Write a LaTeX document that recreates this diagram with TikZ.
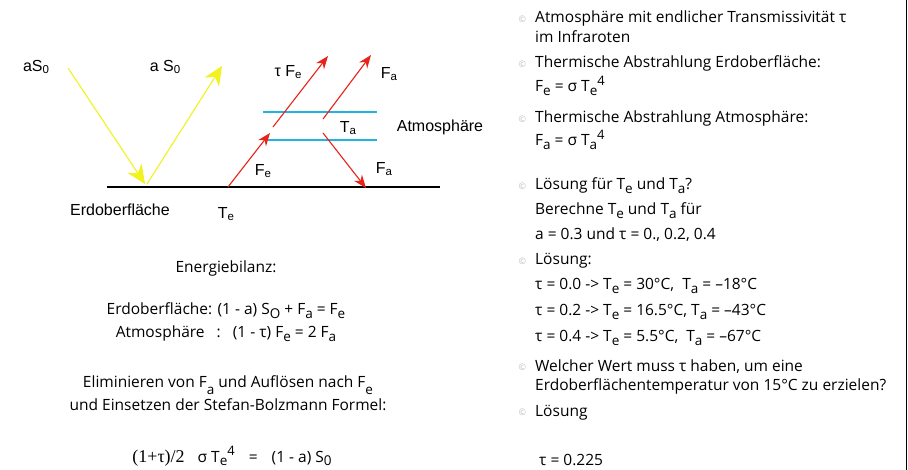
\documentclass[tikz,border=0pt]{standalone}
\usepackage{fontspec}
\usetikzlibrary{arrows.meta}
\setmainfont{Open Sans}
\newfontfamily\arialf{Liberation Sans}
\newfontfamily\serff{Liberation Serif}
\definecolor{redarrow}{HTML}{E8231A}
\definecolor{yelarrow}{HTML}{F2F21E}
\definecolor{cyanline}{HTML}{22B4E0}
\newcommand\lo[1]{\raisebox{-0.4ex}{\fontsize{13.5}{15}\selectfont #1}}
\newcommand\llo[1]{\raisebox{-0.8ex}{\fontsize{13.5}{15}\selectfont #1}}
\newcommand\up[1]{\raisebox{0.8ex}{\fontsize{13}{15}\selectfont #1}}
\newcommand\bul{\makebox[0pt][r]{\fontsize{9}{10}\selectfont\color{black!25}\raisebox{0.2ex}{©}\hspace{9pt}}}
\newcommand\dsub[1]{\raisebox{-0.25ex}{\fontsize{11.5}{13}\selectfont #1}}
\begin{document}
\begin{tikzpicture}[x=1pt,y=-1pt,
  rt/.style={anchor=base west,inner sep=0pt,font=\fontsize{15.5}{17}\selectfont},
  lt/.style={anchor=base,inner sep=0pt,font=\fontsize{15.5}{17}\selectfont},
  dl/.style={inner sep=0pt,font=\arialf\fontsize{16}{18}\selectfont},
  redarr/.style={draw=redarrow,line width=1.1pt,-{Stealth[length=13pt,width=10pt]}},
  yelarr/.style={draw=yelarrow,line width=1.1pt,-{Stealth[length=19pt,width=17pt]}},
  atmline/.style={draw=cyanline,line width=1.2pt}]
\useasboundingbox (0,0) rectangle (908,470);
\fill[white] (0,0) rectangle (908,470);
% right border line
\coordinate (bt) at (906,0); \coordinate (bb) at (906,470);
\draw[line width=1pt] (bt) -- (bb);
% ground and atmosphere
\coordinate (g1) at (107,187); \coordinate (g2) at (440,187);
\draw[line width=1.1pt] (g1) -- (g2);
\coordinate (a1) at (263,112); \coordinate (a2) at (377,112);
\coordinate (b1) at (268,140); \coordinate (b2) at (377,140);
\draw[atmline] (a1) -- (a2);
\draw[atmline] (b1) -- (b2);
% yellow
\coordinate (y0) at (68,68); \coordinate (y1) at (145,184);
\coordinate (y2) at (147,184); \coordinate (y3) at (222,66);
\draw[yelarr] (y0) -- (y1);
\draw[yelarr] (y2) -- (y3);
% red
\coordinate (r0) at (228,187); \coordinate (r1) at (270,133);
\coordinate (r2) at (273,127); \coordinate (r3) at (328,56);
\coordinate (r4) at (323,119); \coordinate (r5) at (371,55);
\coordinate (r6) at (323,133); \coordinate (r7) at (366,188);
\draw[redarr] (r0) -- (r1);
\draw[redarr] (r2) -- (r3);
\draw[redarr] (r4) -- (r5);
\draw[redarr] (r6) -- (r7);
% diagram labels
\node[dl] (laS) at (36,67) {aS\dsub{0}};
\node[dl] (laS2) at (165,67) {a S\dsub{0}};
\node[dl] (ltF) at (288,72) {τ F\dsub{e}};
\node[dl] (lFa1) at (389,74) {F\dsub{a}};
\node[dl] (lTa) at (348,128) {T\dsub{a}};
\node[dl] (latm) at (440,127) {Atmosphäre};
\node[dl] (lFe) at (263,171) {F\dsub{e}};
\node[dl] (lFa2) at (384,169) {F\dsub{a}};
\node[dl] (lerd) at (120,210) {Erdoberfläche};
\node[dl] (lTe) at (226,214) {T\dsub{e}};
% left text
\node[lt] (e1) at (226,273) {Energiebilanz:};
\node[lt] (e2) at (226,315) {Erdoberfläche: (1 - a) S\lo{O} + F\lo{a} = F\lo{e}};
\node[lt] (e3) at (226,338) {Atmosphäre\ \ \ :\ \ \ (1 - τ) F\lo{e} = 2 F\lo{a}};
\node[lt] (e4) at (228,388) {Eliminieren von F\llo{a} und Auflösen nach F\llo{e}};
\node[lt] (e5) at (228,410) {und Einsetzen der Stefan-Bolzmann Formel:};
\node[lt] (e6) at (232,462) {{\serff\fontsize{18}{19}\selectfont (1+τ)/2}\hspace{13pt}σ T\lo{e}\up{4}\hspace{14pt}=\hspace{14pt}(1 - a) S\lo{0}};
% right text
\node[rt] (t1) at (535,23) {\bul Atmosphäre mit endlicher Transmissivität τ};
\node[rt] (t2) at (535,43) {im Infraroten};
\node[rt] (t3) at (535,68) {\bul Thermische Abstrahlung Erdoberfläche:};
\node[rt] (t4) at (535,92) {F\lo{e} = σ T\lo{e}\up{4}};
\node[rt] (t5) at (535,123) {\bul Thermische Abstrahlung Atmosphäre:};
\node[rt] (t6) at (535,146) {F\lo{a} = σ T\lo{a}\up{4}};
\node[rt] (t7) at (535,190) {\bul Lösung für T\lo{e} und T\lo{a}?};
\node[rt] (t8) at (535,215) {Berechne T\lo{e} und T\lo{a} für};
\node[rt] (t9) at (535,240) {a = 0.3 und τ = 0., 0.2, 0.4};
\node[rt] (t10) at (535,265) {\bul Lösung:};
\node[rt] (t11) at (535,290) {τ = 0.0 -> T\lo{e} = 30°C,\ \ T\lo{a} = –18°C};
\node[rt] (t12) at (535,316) {τ = 0.2 -> T\lo{e} = 16.5°C, T\lo{a} = –43°C};
\node[rt] (t13) at (535,342) {τ = 0.4 -> T\lo{e} = 5.5°C,\ \ T\lo{a} = –67°C};
\node[rt] (t14) at (535,371) {\bul Welcher Wert muss τ haben, um eine};
\node[rt] (t15) at (535,391) {Erdoberflächentemperatur von 15°C zu erzielen?};
\node[rt] (t16) at (535,416) {\bul Lösung};
\node[rt] (t17) at (539,465) {τ = 0.225};
\end{tikzpicture}
\end{document}
